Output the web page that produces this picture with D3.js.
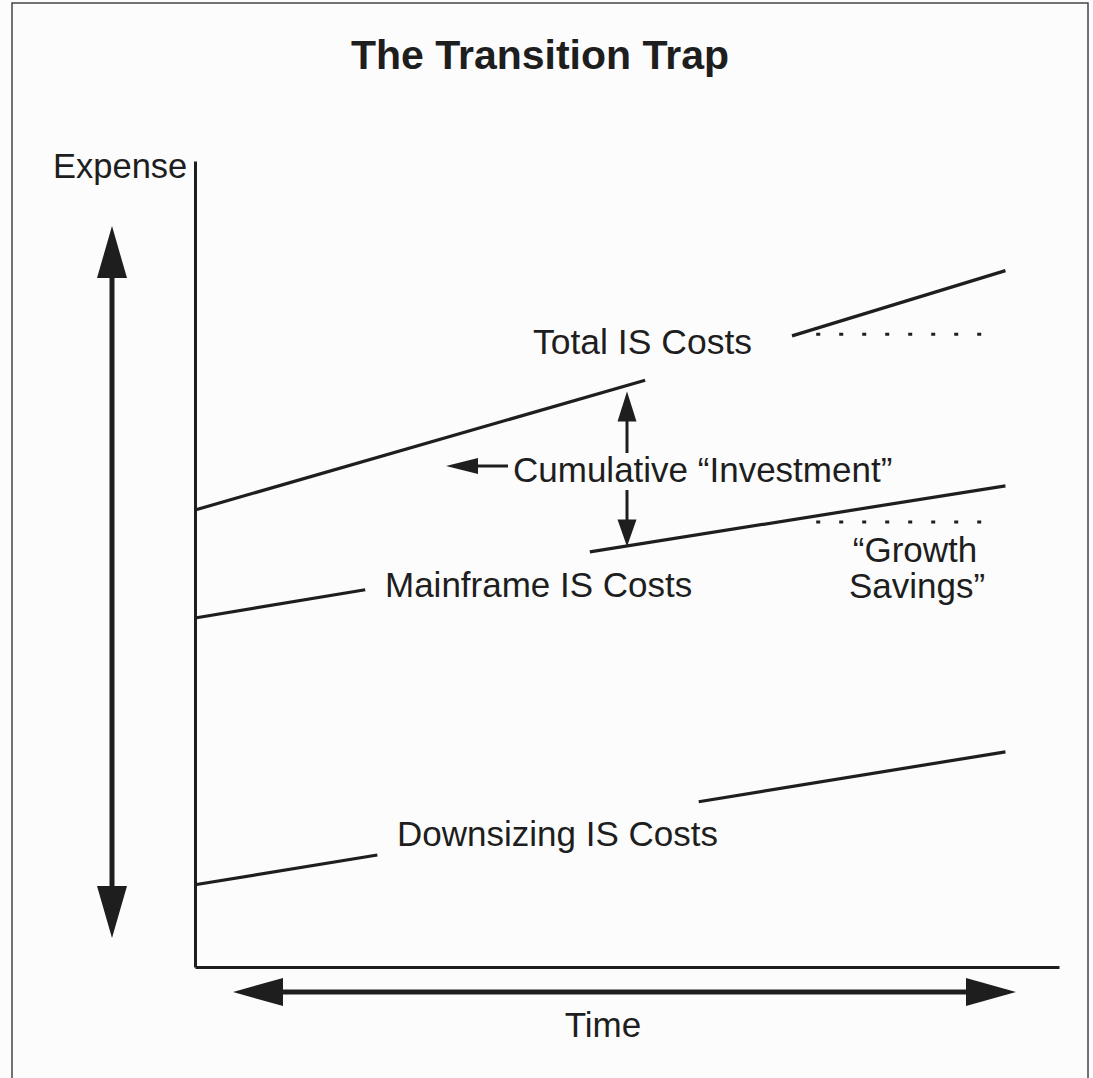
<!DOCTYPE html>
<html>
<head>
<meta charset="utf-8">
<script src="https://cdn.jsdelivr.net/npm/d3@7"></script>
<style>
  body { margin: 0; background: #fcfcfc; }
  svg { display: block; font-family: "Liberation Sans", Arial, sans-serif; }
  text { fill: #1e1e1e; }
</style>
</head>
<body>
<script>
// time / expense in arbitrary units (0-10)
const timeDomain = [0, 10];
const expenseDomain = [0, 10];

// each series is drawn as two segments, the gap leaves room for its label
const totalCosts = [[[0, 5.67], [5.21, 7.28]], [[6.91, 7.83], [9.38, 8.64]]];
const mainframeCosts = [[[0, 4.33], [1.97, 4.68]], [[4.57, 5.15], [9.38, 5.97]]];
const downsizingCosts = [[[0, 1.02], [2.11, 1.39]], [[5.83, 2.05], [9.38, 2.67]]];

// flat "what it would have been" levels
const flatLevels = [7.85, 5.52];
const flatRange = [7.19, 9.29];

const seriesLabels = ["Total IS Costs", "Mainframe IS Costs", "Downsizing IS Costs"];
const investmentTime = 5.0;

var width = 1093, height = 1078;
var margin = {top: 161, right: 34, bottom: 111, left: 195};

const svg = d3.select("body").append("svg")
  .attr("width", width)
  .attr("height", height);

const xScale = d3.scaleLinear()
  .domain(timeDomain)
  .range([margin.left, width - margin.right]);

const yScale = d3.scaleLinear()
  .domain(expenseDomain)
  .range([height - margin.bottom, margin.top]);

var ink = "#1e1e1e";

// scan border
svg.append("path")
  .attr("d", "M12,1078 L12,3 L1088,3 L1088,1078")
  .attr("fill", "none")
  .attr("stroke", "#444")
  .attr("stroke-width", 1.5);

svg.append("text")
  .attr("x", 540)
  .attr("y", 69)
  .attr("text-anchor", "middle")
  .style("font-size", "41px")
  .style("font-weight", "bold")
  .text("The Transition Trap");

// axes without ticks
svg.append("g")
  .attr("id", "x-axis")
  .attr("transform", "translate(0," + yScale(0) + ")")
  .call(d3.axisBottom(xScale).tickValues([]).tickSizeOuter(0))
  .select(".domain").attr("stroke", ink).attr("stroke-width", 3);

svg.append("g")
  .attr("id", "y-axis")
  .attr("transform", "translate(" + xScale(0) + ",0)")
  .call(d3.axisLeft(yScale).tickValues([]).tickSizeOuter(0))
  .select(".domain").attr("stroke", ink).attr("stroke-width", 3);

const line = d3.line()
  .x(d => xScale(d[0]))
  .y(d => yScale(d[1]));

[totalCosts, mainframeCosts, downsizingCosts].forEach(function(series) {
  svg.append("g").selectAll("path")
    .data(series)
    .enter()
    .append("path")
    .attr("d", line)
    .attr("fill", "none")
    .attr("stroke", ink)
    .attr("stroke-width", 3.2);
});

svg.append("g").selectAll("path")
  .data(flatLevels)
  .enter()
  .append("path")
  .attr("d", d => line([[flatRange[0], d], [flatRange[1], d]]))
  .attr("fill", "none")
  .attr("stroke", ink)
  .attr("stroke-width", 3)
  .attr("stroke-dasharray", "4,19");

// labels
svg.append("text").attr("x", 533).attr("y", 354).style("font-size", "35.5px").text(seriesLabels[0]);
svg.append("text").attr("x", 385).attr("y", 597).style("font-size", "35px").text(seriesLabels[1]);
svg.append("text").attr("x", 397).attr("y", 846).style("font-size", "35px").text(seriesLabels[2]);
svg.append("text").attr("x", 513).attr("y", 482).style("font-size", "35px").text("Cumulative \u201cInvestment\u201d");
svg.append("text").attr("x", 915).attr("y", 562).attr("text-anchor", "middle").style("font-size", "35px").text("\u201cGrowth");
svg.append("text").attr("x", 917).attr("y", 598).attr("text-anchor", "middle").style("font-size", "35px").text("Savings\u201d");
svg.append("text").attr("x", 53).attr("y", 178).style("font-size", "34.5px").text("Expense");
svg.append("text").attr("x", 603).attr("y", 1037).attr("text-anchor", "middle").style("font-size", "35px").text("Time");

// value of a series at time t (first segment extended)
function valueAt(series, t) {
  var a = series[0][0], b = series[0][1];
  return a[1] + (b[1] - a[1]) * (t - a[0]) / (b[0] - a[0]);
}

function arrow(x1, y1, x2, y2, headLen, headHalf, shaftWidth) {
  var dx = x2 - x1, dy = y2 - y1;
  var len = Math.sqrt(dx * dx + dy * dy);
  var ux = dx / len, uy = dy / len;
  var bx = x2 - ux * headLen, by = y2 - uy * headLen;
  svg.append("line")
    .attr("x1", x1).attr("y1", y1)
    .attr("x2", bx + ux * 2).attr("y2", by + uy * 2)
    .attr("stroke", ink)
    .attr("stroke-width", shaftWidth);
  svg.append("path")
    .attr("d", "M" + x2 + "," + y2 +
      "L" + (bx - uy * headHalf) + "," + (by + ux * headHalf) +
      "L" + (bx + uy * headHalf) + "," + (by - ux * headHalf) + "Z")
    .attr("fill", ink);
}

// cumulative investment arrows between total and mainframe lines
var ix = xScale(investmentTime);
arrow(ix, 453, ix, yScale(valueAt(totalCosts, investmentTime)) + 6, 30, 9.5, 3);
arrow(ix, 490, ix, yScale(valueAt(mainframeCosts, investmentTime)), 27, 9.5, 3);
arrow(508, 466, 446, 466, 32, 8, 3);

// big axis arrows
arrow(112, 560, 112, 226, 52, 15, 5);
arrow(112, 560, 112, 938, 52, 15, 5);
arrow(620, 992, 233, 992, 50, 14, 5);
arrow(620, 992, 1016, 992, 50, 14, 5);
</script>
</body>
</html>
